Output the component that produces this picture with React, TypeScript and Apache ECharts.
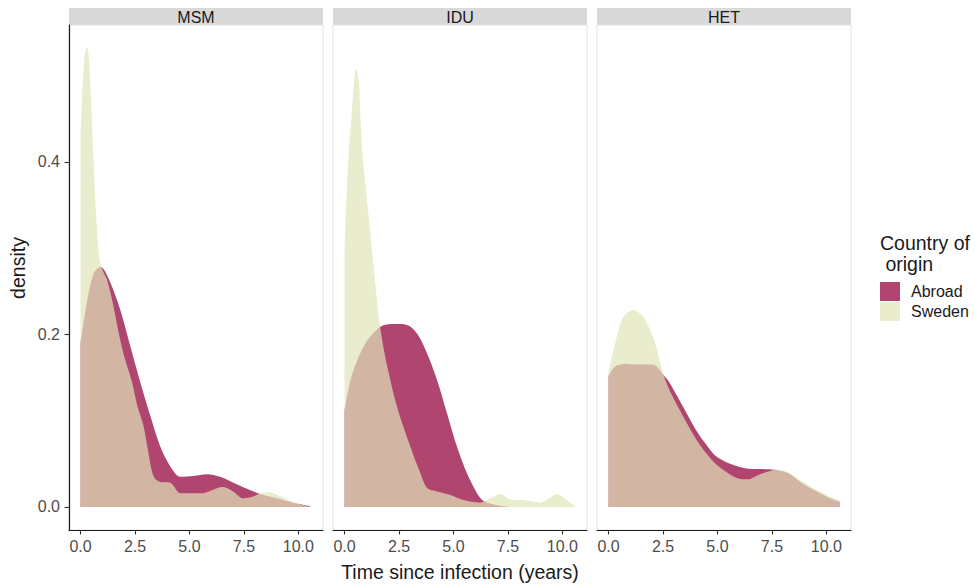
import React, { useEffect, useRef } from "react";
import * as echarts from "echarts";

// ---- data ----
const panels = ["MSM", "IDU", "HET"];
const groups = ["Abroad", "Sweden"];
const xTicks = [0, 2.5, 5, 7.5, 10];
const yTicks = [0, 0.2, 0.4];

const msmAbroad: number[][] = [
  [0, 0.19], [0.31, 0.24], [0.61, 0.271], [0.92, 0.278], [1.37, 0.26], [1.83, 0.228],
  [2.29, 0.186], [2.75, 0.144], [3.21, 0.105], [3.66, 0.07], [4.12, 0.047], [4.58, 0.035],
  [5.19, 0.036], [5.8, 0.038], [6.41, 0.035], [7.02, 0.028], [7.64, 0.021], [8.25, 0.015],
  [9.0, 0.01], [9.76, 0.005], [10.54, 0.001],
];
const msmSweden: number[][] = [
  [0, 0.43], [0.1, 0.49], [0.2, 0.525], [0.3, 0.533], [0.4, 0.515], [0.5, 0.46], [0.6, 0.4],
  [0.7, 0.345], [0.8, 0.305], [0.9, 0.283], [1.0, 0.275], [1.22, 0.263], [1.5, 0.234],
  [1.75, 0.202], [2.0, 0.175], [2.37, 0.144], [2.6, 0.118], [2.9, 0.093], [3.1, 0.065],
  [3.36, 0.035], [3.66, 0.029], [4.12, 0.028], [4.58, 0.016], [5.18, 0.016], [5.63, 0.016],
  [6.0, 0.019], [6.3, 0.022], [6.55, 0.023], [7.0, 0.018], [7.47, 0.01], [7.92, 0.012],
  [8.25, 0.016], [8.6, 0.017], [8.84, 0.016], [9.3, 0.011], [9.76, 0.006], [10.2, 0.002],
  [10.55, 0.0005],
];
const iduAbroad: number[][] = [
  [0, 0.112], [0.27, 0.147], [0.58, 0.17], [1.04, 0.193], [1.65, 0.209], [2.26, 0.212],
  [2.87, 0.211], [3.33, 0.201], [3.79, 0.178], [4.25, 0.147], [4.7, 0.109], [5.16, 0.07],
  [5.62, 0.039], [6.08, 0.016], [6.38, 0.007], [7.0, 0.002], [7.5, 0.0005],
];
const iduSweden: number[][] = [
  [0, 0.29], [0.05, 0.336], [0.2, 0.414], [0.32, 0.452], [0.43, 0.491], [0.53, 0.508],
  [0.66, 0.491], [0.73, 0.452], [0.81, 0.414], [0.95, 0.375], [1.11, 0.336], [1.41, 0.259],
  [1.63, 0.209], [1.96, 0.163], [2.41, 0.116], [3.02, 0.07], [3.48, 0.039], [3.79, 0.022],
  [4.25, 0.018], [4.86, 0.014], [5.47, 0.008], [6.23, 0.005], [6.7, 0.01], [7.15, 0.015],
  [7.6, 0.009], [8.21, 0.008], [8.98, 0.005], [9.4, 0.01], [9.74, 0.015], [10.2, 0.008],
  [10.58, 0.001],
];
const hetAbroad: number[][] = [
  [0, 0.152], [0.31, 0.163], [0.77, 0.166], [1.37, 0.165], [1.99, 0.165], [2.25, 0.162],
  [2.52, 0.153], [2.75, 0.146], [3.05, 0.133], [3.51, 0.112], [3.97, 0.091], [4.43, 0.074],
  [4.88, 0.06], [5.49, 0.051], [6.26, 0.045], [7.02, 0.044], [7.63, 0.043], [8.25, 0.039],
  [8.86, 0.028], [9.47, 0.019], [10.08, 0.011], [10.61, 0.006],
];
const hetSweden: number[][] = [
  [0, 0.157], [0.31, 0.19], [0.61, 0.217], [0.9, 0.226], [1.15, 0.228], [1.4, 0.225],
  [1.68, 0.217], [2.14, 0.19], [2.52, 0.153], [2.9, 0.13], [3.36, 0.108], [3.82, 0.087],
  [4.28, 0.069], [4.88, 0.051], [5.49, 0.039], [5.95, 0.033], [6.41, 0.032], [6.87, 0.037],
  [7.33, 0.041], [7.71, 0.043], [8.25, 0.04], [8.86, 0.03], [9.47, 0.021], [10.08, 0.013],
  [10.61, 0.007],
];
const seriesData = [
  [msmAbroad, msmSweden],
  [iduAbroad, iduSweden],
  [hetAbroad, hetSweden],
];

// ---- layout / style ----
const FONT = "'Liberation Sans', Arial, sans-serif";
const PANEL_LEFT = [69, 333, 597];
const PANEL_W = 254;
const PANEL_TOP = 25;
const PANEL_H = 505;
const X_MIN = -0.53;
const X_MAX = 11.13;
const Y_MIN = -0.0267;
const Y_MAX = 0.5586;
const ABROAD = "#B0466F";
const SWEDEN_FILL = "rgba(224,228,185,0.71)";
const SWEDEN_KEY = "#E9ECCD";

export default function App() {
  const ref = useRef<HTMLDivElement>(null);
  useEffect(() => {
    document.body.style.margin = "0";
    if (!ref.current) return;
    const chart = echarts.init(ref.current, undefined, { renderer: "svg" });
    const fmt = (v: number) => v.toFixed(1);

    const grid = PANEL_LEFT.map((l) => ({
      left: l,
      top: PANEL_TOP,
      width: PANEL_W,
      height: PANEL_H,
      show: true,
      borderColor: "#e3e3e3",
      borderWidth: 1,
      backgroundColor: "transparent",
    }));

    const xAxis = panels.map((_, i) => ({
      type: "value",
      gridIndex: i,
      min: X_MIN,
      max: X_MAX,
      axisLine: { show: true, onZero: false, lineStyle: { color: "#1a1a1a", width: 1.2 } },
      axisTick: { show: true, length: 4.5, customValues: xTicks, lineStyle: { color: "#333", width: 1.1 } },
      axisLabel: { customValues: xTicks, formatter: fmt, color: "#4d4d4d", fontSize: 16, margin: 8, fontFamily: FONT },
      splitLine: { show: false },
    }));

    const yAxis = panels.map((_, i) => ({
      type: "value",
      gridIndex: i,
      min: Y_MIN,
      max: Y_MAX,
      show: i === 0,
      axisLine: { show: true, onZero: false, lineStyle: { color: "#1a1a1a", width: 1.2 } },
      axisTick: { show: true, length: 4.5, customValues: yTicks, lineStyle: { color: "#333", width: 1.1 } },
      axisLabel: { customValues: yTicks, formatter: fmt, color: "#4d4d4d", fontSize: 16, margin: 9, fontFamily: FONT },
      splitLine: { show: false },
    }));

    const series: any[] = [];
    seriesData.forEach((pair, i) => {
      pair.forEach((data, g) => {
        series.push({
          type: "line",
          name: groups[g],
          xAxisIndex: i,
          yAxisIndex: i,
          data,
          smooth: 0.3,
          showSymbol: false,
          symbol: "none",
          lineStyle: { width: 0, opacity: 0 },
          itemStyle: { color: g === 0 ? ABROAD : SWEDEN_KEY },
          areaStyle: { color: g === 0 ? ABROAD : SWEDEN_FILL, opacity: 1, origin: 0 },
          z: 2 + g,
          silent: true,
        });
      });
    });

    const graphic: any[] = [];
    panels.forEach((p, i) => {
      graphic.push({
        type: "rect",
        shape: { x: PANEL_LEFT[i], y: 8, width: PANEL_W, height: 17 },
        style: { fill: "#d9d9d9" },
        silent: true,
      });
      graphic.push({
        type: "text",
        x: PANEL_LEFT[i] + PANEL_W / 2,
        y: 17,
        style: { text: p, fill: "#1a1a1a", font: `16px ${FONT}`, align: "center", verticalAlign: "middle" },
        silent: true,
      });
    });
    graphic.push({
      type: "text",
      x: 460,
      y: 572,
      style: { text: "Time since infection (years)", fill: "#1a1a1a", font: `19.5px ${FONT}`, align: "center", verticalAlign: "middle" },
    });
    graphic.push({
      type: "text",
      x: 18,
      y: 268,
      rotation: Math.PI / 2,
      style: { text: "density", fill: "#1a1a1a", font: `19.5px ${FONT}`, align: "center", verticalAlign: "middle" },
    });
    graphic.push({
      type: "text",
      x: 880,
      y: 232.5,
      style: { text: "Country of\n origin", fill: "#1a1a1a", font: `19.5px ${FONT}`, lineHeight: 21, align: "left", verticalAlign: "top" },
    });

    chart.setOption({
      animation: false,
      backgroundColor: "#ffffff",
      grid,
      xAxis,
      yAxis,
      series,
      legend: {
        data: [
          { name: "Abroad", itemStyle: { color: ABROAD } },
          { name: "Sweden", itemStyle: { color: SWEDEN_KEY } },
        ],
        orient: "vertical",
        left: 880,
        top: 282,
        icon: "rect",
        itemWidth: 20,
        itemHeight: 19,
        itemGap: 1,
        padding: 0,
        selectedMode: false,
        textStyle: { fontSize: 16, color: "#1a1a1a", fontFamily: FONT, padding: [0, 0, 0, 6] },
      },
      graphic,
    });
    return () => chart.dispose();
  }, []);
  return <div ref={ref} style={{ width: 975, height: 588 }} />;
}
